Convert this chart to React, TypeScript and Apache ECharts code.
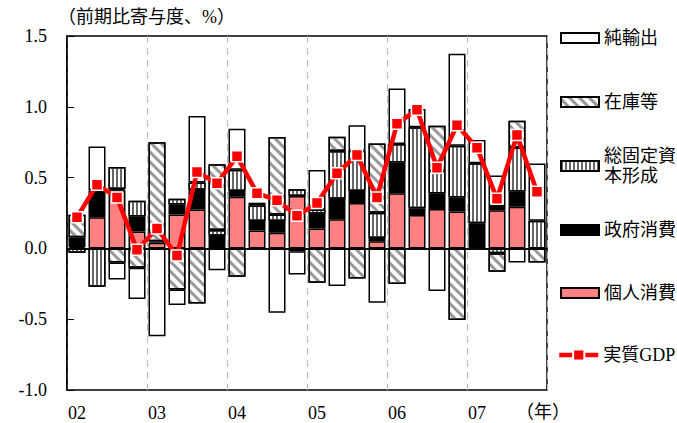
import React, { useEffect, useRef } from 'react';
import * as echarts from 'echarts';

const years = ['02', '03', '04', '05', '06', '07'];
const quarterSuffix = ['Q1', 'Q2', 'Q3', 'Q4'];
const categories = years.flatMap((y) => quarterSuffix.map((q) => `${y}${q}`));

const yTickMin = -1.0;
const yTickMax = 1.5;
const yTickStep = 0.5;

const privateConsumption = [0.01, 0.22, 0.41, 0.12, 0.04, 0.24, 0.275, 0, 0.365, 0.127, 0.11, 0.37, 0.14, 0.205, 0.32, 0.05, 0.39, 0.236, 0.278, 0.26, 0, 0.27, 0.294, 0];
const governmentConsumption = [0.068, 0.19, 0.01, 0.106, 0.01, 0.07, 0.14, 0.09, 0.04, 0.066, 0.083, -0.02, 0.104, 0.146, 0.085, 0.024, 0.217, 0.047, 0.11, 0.1, 0.177, 0.03, 0.108, 0];
const fixedCapital = [-0.03, -0.27, 0.155, 0.11, 0, 0.04, 0.05, 0.04, 0.15, 0.11, 0.047, 0.047, 0.03, 0.337, 0.285, 0.177, 0.13, 0.572, 0.16, 0.365, 0.424, -0.035, 0.31, 0.195];
const inventories = [0.16, 0, -0.1, -0.137, 0.7, -0.29, -0.39, 0.465, -0.2, 0, 0.547, 0, -0.243, 0.1, -0.212, 0.49, -0.252, 0, 0.318, -0.506, 0, -0.13, 0.19, -0.1];
const netExports = [0, 0.31, -0.12, -0.22, -0.62, -0.11, 0.47, -0.155, 0.29, 0.02, -0.455, -0.165, 0.28, -0.266, 0.18, -0.384, 0.393, 0.13, -0.3, 0.65, 0.165, 0.214, -0.1, 0.405];
const realGDP = [0.22, 0.45, 0.36, -0.01, 0.14, -0.05, 0.54, 0.46, 0.65, 0.39, 0.34, 0.23, 0.32, 0.53, 0.66, 0.36, 0.88, 0.98, 0.57, 0.87, 0.71, 0.35, 0.8, 0.4];

const FONT = "'Liberation Serif', 'Noto Sans CJK JP', serif";

const clean = (arr: number[]) => arr.map((v) => (v === 0 ? null : v));

export default function App() {
  const ref = useRef<HTMLDivElement>(null);
  useEffect(() => {
    if (!ref.current) return;
    const chart = echarts.init(ref.current, undefined, { renderer: 'svg' });
    const barBase = {
      type: 'bar' as const,
      stack: 'gdp',
      barWidth: 17,
      z: 2,
    };
    const legendBase = (name: string, top: number, extra: any = {}) => ({
      data: [name],
      left: 560,
      top,
      orient: 'vertical',
      padding: 0,
      itemWidth: 38,
      itemHeight: 10,
      selectedMode: false,
      textStyle: { fontFamily: FONT, fontSize: 18, color: '#000', lineHeight: 20 },
      ...extra,
    });
    chart.setOption({
      animation: false,
      textStyle: { fontFamily: FONT },
      title: {
        text: '（前期比寄与度、%）',
        left: 58,
        top: 8,
        padding: 0,
        textStyle: { fontFamily: FONT, fontSize: 18, fontWeight: 'normal', color: '#000' },
      },
      graphic: [
        {
          type: 'text',
          left: 516,
          top: 403,
          style: { text: '（年）', font: `18px ${FONT}`, fill: '#000' },
        },
      ],
      legend: [
        legendBase('純輸出', 28, { icon: 'rect' }),
        legendBase('在庫等', 92, { icon: 'rect' }),
        legendBase('総固定資本形成', 136, {
          icon: 'rect',
          formatter: () => '総固定資\n本形成',
          textStyle: { fontFamily: FONT, fontSize: 18, color: '#000', lineHeight: 20, padding: [20, 0, 0, 0] },
        }),
        legendBase('政府消費', 220, { icon: 'rect' }),
        legendBase('個人消費', 283, { icon: 'rect' }),
        legendBase('実質GDP', 345, {
          left: 557,
          itemWidth: 39,
          itemHeight: 14,
          lineStyle: { width: 4.5 },
        }),
      ],
      grid: {
        left: 67,
        right: 130,
        top: 36,
        bottom: 33,
        show: true,
        borderColor: '#000',
        borderWidth: 1.5,
        backgroundColor: 'transparent',
      },
      xAxis: {
        type: 'category',
        data: categories,
        axisLine: { show: true, lineStyle: { color: '#000', width: 1.5 } },
        axisTick: { show: false },
        axisLabel: {
          interval: 3,
          formatter: (v: string) => v.slice(0, 2),
          fontFamily: FONT,
          fontSize: 18,
          color: '#000',
          margin: 14,
        },
        splitLine: {
          show: true,
          interval: 3,
          lineStyle: { color: '#bbb', width: 1, type: [7, 5] },
        },
      },
      yAxis: {
        type: 'value',
        min: yTickMin,
        max: yTickMax,
        interval: yTickStep,
        axisLine: { show: true, lineStyle: { color: '#000', width: 1.5 } },
        axisTick: { show: true, inside: true, length: 7, lineStyle: { color: '#000', width: 1 } },
        axisLabel: {
          formatter: (v: number) => v.toFixed(1),
          fontFamily: FONT,
          fontSize: 18,
          color: '#000',
          margin: 20,
        },
        splitLine: { show: false },
      },
      series: [
        {
          ...barBase,
          name: '個人消費',
          data: clean(privateConsumption),
          itemStyle: { color: '#FF8080', borderColor: '#000', borderWidth: 1.5 },
        },
        {
          ...barBase,
          name: '政府消費',
          data: clean(governmentConsumption),
          itemStyle: { color: '#000', borderColor: '#000', borderWidth: 1.5 },
        },
        {
          ...barBase,
          name: '総固定資本形成',
          data: clean(fixedCapital),
          itemStyle: {
            color: '#fff',
            borderColor: '#000',
            borderWidth: 1.5,
            decal: {
              symbol: 'rect',
              symbolSize: 1,
              color: '#666',
              dashArrayX: [2, 2],
              dashArrayY: [5, 0],
              rotation: 0,
            },
          },
        },
        {
          ...barBase,
          name: '在庫等',
          data: clean(inventories),
          itemStyle: {
            color: '#fff',
            borderColor: '#000',
            borderWidth: 1.5,
            decal: {
              symbol: 'rect',
              symbolSize: 1,
              color: '#999',
              dashArrayX: [1, 0],
              dashArrayY: [3, 4],
              rotation: Math.PI / 4,
            },
          },
        },
        {
          ...barBase,
          name: '純輸出',
          data: clean(netExports),
          itemStyle: { color: '#fff', borderColor: '#000', borderWidth: 1.5 },
          markLine: {
            silent: true,
            z: 3,
            symbol: ['none', 'none'],
            label: { show: false },
            lineStyle: { color: '#000', width: 1.5, type: 'solid' },
            data: [{ yAxis: 0 }],
          },
        },
        {
          type: 'line',
          name: '実質GDP',
          data: realGDP,
          z: 5,
          symbol: 'rect',
          symbolSize: 11,
          lineStyle: { color: '#FF0000', width: 4.5 },
          itemStyle: { color: '#FF0000', borderColor: '#fff', borderWidth: 1.5 },
        },
      ],
    });
    return () => chart.dispose();
  }, []);
  return (
    <div
      ref={ref}
      style={{
        position: 'fixed',
        left: 0,
        top: 0,
        width: 677,
        height: 423,
        background: '#fff',
        textSpacingTrim: 'space-all',
      } as any}
    />
  );
}
